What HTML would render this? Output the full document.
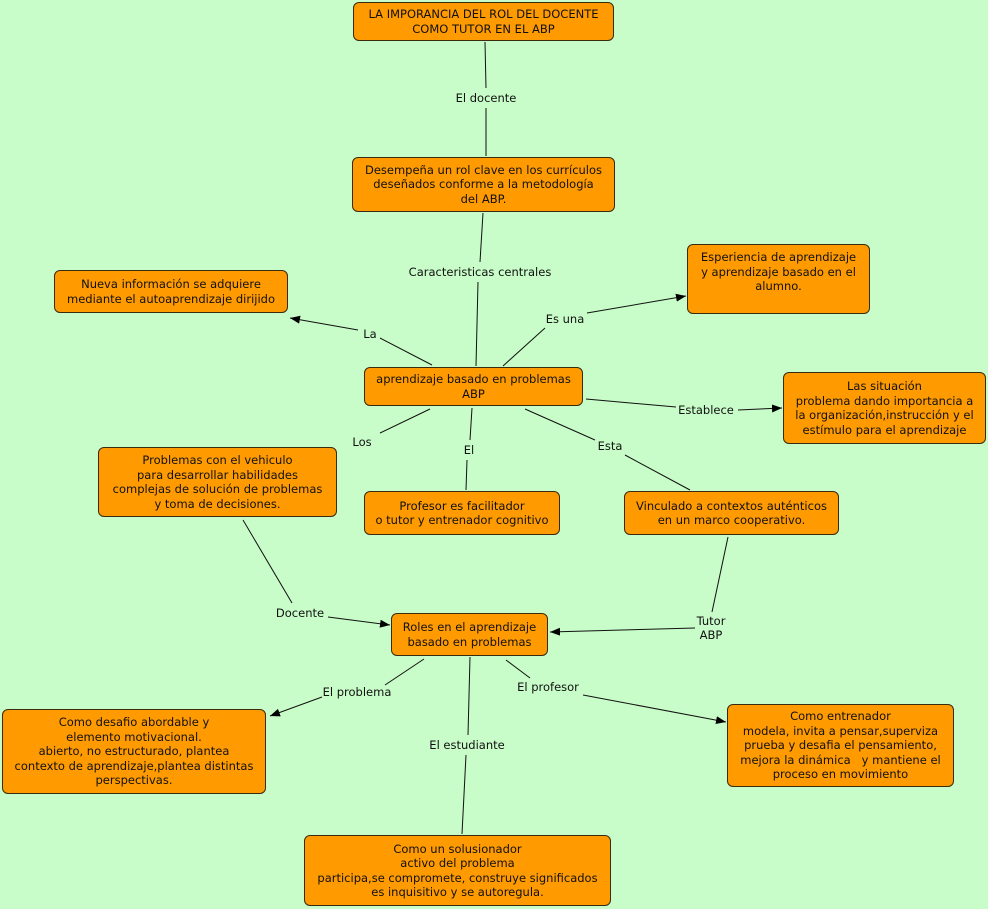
<!DOCTYPE html>
<html><head><meta charset="utf-8"><style>
body{margin:0;width:988px;height:909px;background:#c8fcc8;position:relative;overflow:hidden;font-family:"DejaVu Sans","Liberation Sans",sans-serif;}
.b{position:absolute;background:#ff9a00;border:1px solid #3a2a10;border-radius:6px;box-sizing:border-box;font-size:11.5px;line-height:14.5px;color:#111;text-align:center;display:flex;align-items:center;justify-content:center;padding:0 3px;white-space:nowrap}
.l{position:absolute;font-size:11.5px;color:#111;transform:translate(-50%,-50%);white-space:nowrap;text-align:center;line-height:14px}
svg{position:absolute;left:0;top:0}
</style></head><body>
<svg width="988" height="909"><defs><marker id="a" markerWidth="10" markerHeight="8" refX="10" refY="4" orient="auto" markerUnits="userSpaceOnUse"><path d="M0,0L10,4L0,8z" fill="#000"/></marker></defs>
<g stroke="#111" stroke-width="1" fill="none">
<line x1="485" y1="42" x2="486" y2="88"/><line x1="486" y1="108" x2="486" y2="156"/>
<line x1="483" y1="213" x2="480" y2="262"/><line x1="478" y1="282" x2="476" y2="366"/>
<line x1="432" y1="365" x2="380" y2="338"/><line x1="358" y1="330" x2="290" y2="318" marker-end="url(#a)"/>
<line x1="503" y1="366" x2="545" y2="328"/><line x1="587" y1="313" x2="686" y2="296" marker-end="url(#a)"/>
<line x1="586" y1="399" x2="676" y2="407"/><line x1="738" y1="410" x2="782" y2="408" marker-end="url(#a)"/>
<line x1="430" y1="409" x2="380" y2="433"/>
<line x1="472" y1="408" x2="470" y2="440"/><line x1="467" y1="460" x2="466" y2="490"/>
<line x1="525" y1="409" x2="595" y2="440"/><line x1="625" y1="455" x2="690" y2="490"/>
<line x1="243" y1="520" x2="292" y2="603"/><line x1="328" y1="617" x2="390" y2="625" marker-end="url(#a)"/>
<line x1="728" y1="537" x2="712" y2="612"/><line x1="695" y1="628" x2="550" y2="632" marker-end="url(#a)"/>
<line x1="424" y1="659" x2="385" y2="685"/><line x1="322" y1="697" x2="270" y2="716" marker-end="url(#a)"/>
<line x1="470" y1="657" x2="468" y2="735"/><line x1="466" y1="755" x2="462" y2="834"/>
<line x1="506" y1="660" x2="530" y2="678"/><line x1="583" y1="695" x2="726" y2="722" marker-end="url(#a)"/>
</g></svg>
<div class="b" style="left:353px;top:2px;width:261px;height:39px">LA IMPORANCIA DEL ROL DEL DOCENTE<br>COMO TUTOR EN EL ABP</div>
<div class="b" style="left:352px;top:157px;width:263px;height:55px">Desempeña un rol clave en los currículos<br>deseñados conforme a la metodología<br>del ABP.</div>
<div class="b" style="left:54px;top:270px;width:234px;height:43px">Nueva información se adquiere<br>mediante el autoaprendizaje dirijido</div>
<div class="b" style="left:687px;top:244px;width:183px;height:70px;align-items:flex-start;padding-top:5px">Esperiencia de aprendizaje<br>y aprendizaje basado en el<br>alumno.</div>
<div class="b" style="left:364px;top:367px;width:219px;height:39px">aprendizaje basado en problemas<br>ABP</div>
<div class="b" style="left:783px;top:372px;width:203px;height:72px">Las situación<br>problema dando importancia a<br>la organización,instrucción y el<br>estímulo para el aprendizaje</div>
<div class="b" style="left:98px;top:447px;width:239px;height:70px">Problemas con el vehiculo<br>para desarrollar habilidades<br>complejas de solución de problemas<br>y toma de decisiones.</div>
<div class="b" style="left:364px;top:491px;width:196px;height:44px">Profesor es facilitador<br>o tutor y entrenador cognitivo</div>
<div class="b" style="left:624px;top:491px;width:215px;height:44px">Vinculado a contextos auténticos<br>en un marco cooperativo.</div>
<div class="b" style="left:391px;top:613px;width:157px;height:43px">Roles en el aprendizaje<br>basado en problemas</div>
<div class="b" style="left:2px;top:709px;width:264px;height:85px">Como desafio abordable y<br>elemento motivacional.<br>abierto, no estructurado, plantea<br>contexto de aprendizaje,plantea distintas<br>perspectivas.</div>
<div class="b" style="left:727px;top:704px;width:227px;height:83px">Como entrenador<br>modela, invita a pensar,superviza<br>prueba y desafia el pensamiento,<br>mejora la dinámica &nbsp; y mantiene el<br>proceso en movimiento</div>
<div class="b" style="left:304px;top:835px;width:307px;height:71px">Como un solusionador<br>activo del problema<br>participa,se compromete, construye significados<br>es inquisitivo y se autoregula.</div>
<div class="l" style="left:486px;top:98px">El docente</div>
<div class="l" style="left:480px;top:272px">Caracteristicas centrales</div>
<div class="l" style="left:370px;top:334px">La</div>
<div class="l" style="left:565px;top:319px">Es una</div>
<div class="l" style="left:706px;top:410px">Establece</div>
<div class="l" style="left:362px;top:442px">Los</div>
<div class="l" style="left:469px;top:450px">El</div>
<div class="l" style="left:610px;top:446px">Esta</div>
<div class="l" style="left:300px;top:613px">Docente</div>
<div class="l" style="left:711px;top:628px">Tutor<br>ABP</div>
<div class="l" style="left:357px;top:692px">El problema</div>
<div class="l" style="left:467px;top:745px">El estudiante</div>
<div class="l" style="left:548px;top:687px">El profesor</div>
</body></html>
